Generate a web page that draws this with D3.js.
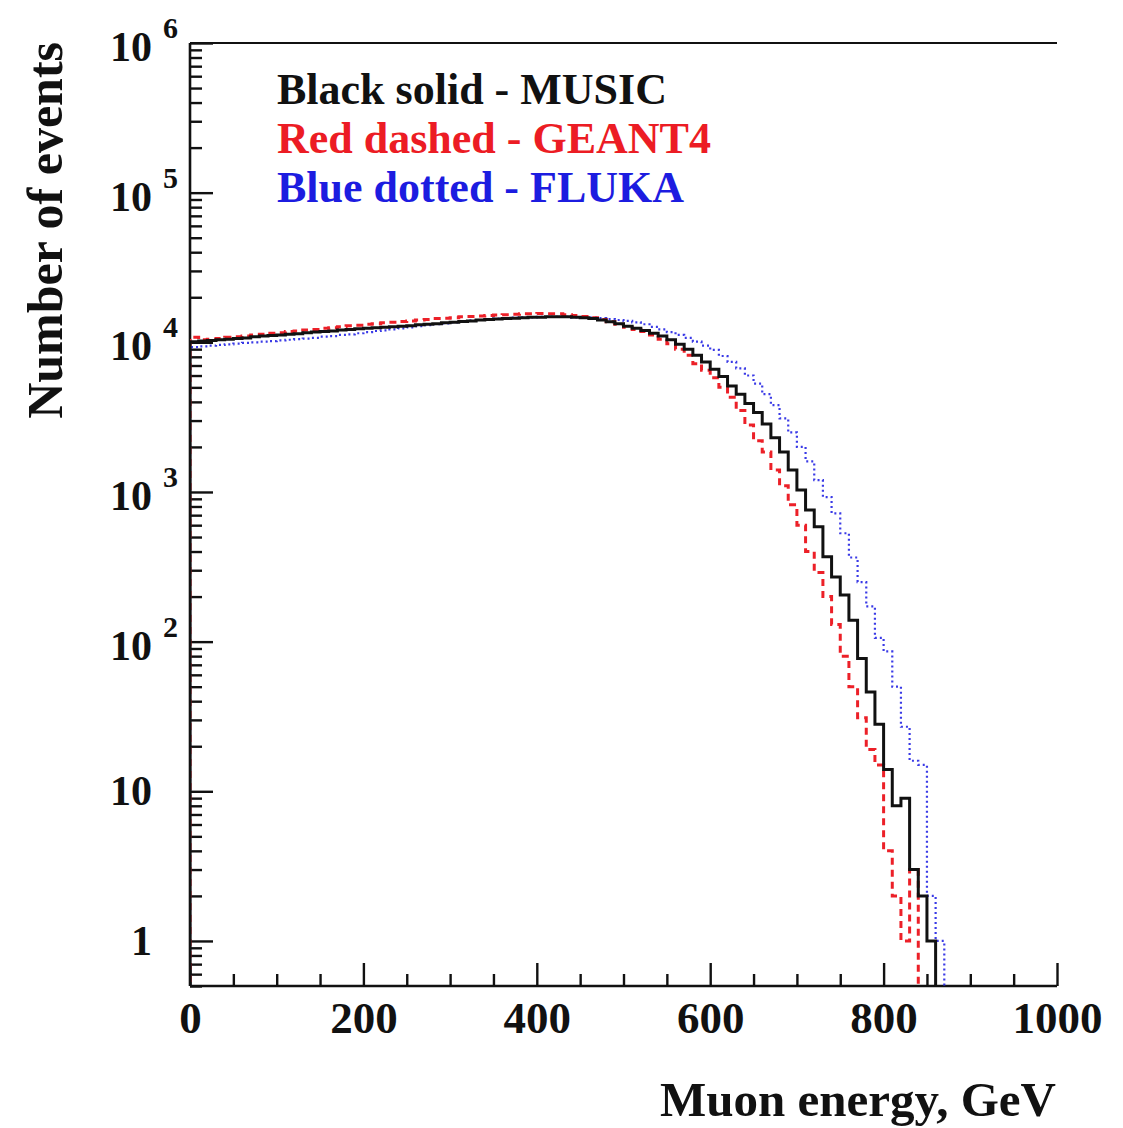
<!DOCTYPE html>
<html lang="en">
<head>
<meta charset="UTF-8">
<title>Muon energy spectrum - MUSIC / GEANT4 / FLUKA</title>
<script src="https://d3js.org/d3.v7.min.js"></script>
<style>
  body { margin: 0; background: #fff; }
  svg text { font-family: "Liberation Serif", "Times New Roman", serif; font-weight: bold; fill: #111; }
  .tick-line { stroke: #111; stroke-width: 2.4; }
</style>
</head>
<body>
<script>
// 10 GeV bins, lower edges 0 ... 990 GeV
const binEdges = d3.range(0, 1000, 10);

// Number of events per bin
const music = [
  10100, 10200, 10300, 10400, 10500, 10600, 10700, 10900, 11000, 11100,
  11200, 11300, 11400, 11600, 11700, 11800, 11900, 12100, 12200, 12300,
  12400, 12500, 12600, 12700, 12800, 12900, 13100, 13200, 13300, 13500,
  13600, 13800, 13900, 14100, 14200, 14300, 14400, 14500, 14600, 14700,
  14700, 14800, 14800, 14800, 14700, 14600, 14400, 14100, 13700, 13300,
  12800, 12400, 12000, 11500, 11000, 10400, 9700, 9000, 8200, 7400,
  6600, 5900, 5100, 4500, 3900, 3400, 2850, 2300, 1850, 1400,
  1030, 757, 585, 369, 270, 205, 139, 77, 46, 28,
  14, 8, 9, 3, 2, 1, 0, 0, 0, 0,
  0, 0, 0, 0, 0, 0, 0, 0, 0, 0
];
const geant4 = [
  10800, 10400, 10500, 10600, 10800, 10900, 11000, 11200, 11300, 11500,
  11600, 11800, 11900, 12100, 12200, 12400, 12500, 12700, 12900, 13000,
  13200, 13300, 13500, 13600, 13800, 13900, 14100, 14200, 14400, 14500,
  14600, 14800, 14900, 15000, 15100, 15200, 15300, 15400, 15500, 15500,
  15600, 15500, 15500, 15300, 15100, 14900, 14600, 14200, 13700, 13200,
  12600, 12200, 11800, 11200, 10500, 9800, 9000, 8200, 7200, 6500,
  5800, 5000, 4300, 3500, 2800, 2200, 1850, 1400, 1100, 820,
  600, 400, 290, 200, 130, 80, 50, 31, 19, 15,
  4, 2, 1, 3, 0, 0, 0, 0, 0, 0,
  0, 0, 0, 0, 0, 0, 0, 0, 0, 0
];
const fluka = [
  9300, 9400, 9500, 9600, 9700, 9800, 9900, 10000, 10100, 10200,
  10300, 10400, 10500, 10600, 10700, 10900, 11000, 11200, 11300, 11500,
  11700, 11900, 12000, 12200, 12400, 12600, 12800, 13000, 13200, 13400,
  13600, 13800, 14000, 14100, 14300, 14400, 14500, 14600, 14700, 14700,
  14800, 14800, 14800, 14800, 14700, 14700, 14600, 14500, 14300, 14100,
  13900, 13600, 13200, 12700, 12200, 11700, 11200, 10700, 10100, 9500,
  8900, 8100, 7400, 6700, 6000, 5300, 4500, 3800, 3100, 2500,
  2000, 1600, 1200, 925, 720, 530, 365, 250, 172, 106,
  86, 50, 27, 16, 15, 2, 1, 0, 0, 0,
  0, 0, 0, 0, 0, 0, 0, 0, 0, 0
];

const xTicks = [0, 200, 400, 600, 800, 1000];
const yDecades = [1, 10, 100, 1e3, 1e4, 1e5, 1e6];
const yExponents = ["", "", "2", "3", "4", "5", "6"];
const legendLabels = ["Black solid - MUSIC", "Red dashed - GEANT4", "Blue dotted - FLUKA"];

// Set dimensions and margins
const margin = {top: 43, right: 66, bottom: 142, left: 190};
const W = 1123, H = 1128;
const width = W - margin.left - margin.right;
const height = H - margin.top - margin.bottom;

const svg = d3.select("body")
    .append("svg")
    .attr("width", W)
    .attr("height", H);

const g = svg.append("g")
    .attr("transform", `translate(${margin.left},${margin.top})`);

const x = d3.scaleLinear().domain([0, 1000]).range([0, width]);
const y = d3.scaleLog().domain([0.5, 1e6]).range([height, 0]);

g.append("clipPath").attr("id", "plot-clip")
    .append("rect")
    .attr("x", 0).attr("y", 0)
    .attr("width", width).attr("height", height);

// frame top line
g.append("line").attr("x1", 0).attr("x2", width).attr("y1", 0).attr("y2", 0)
    .attr("stroke", "#111").attr("stroke-width", 2.2);

// X axis: major and minor ticks pointing inward
const xMinor = d3.range(0, 1001, 50).filter(v => v % 200 !== 0);
g.append("g").attr("transform", `translate(0,${height})`)
    .call(d3.axisBottom(x).tickValues(xMinor).tickSize(-12).tickFormat(""))
    .call(a => a.select(".domain").remove())
    .call(a => a.selectAll("line").attr("class", "tick-line"));

g.append("g").attr("transform", `translate(0,${height})`)
    .call(d3.axisBottom(x).tickValues(xTicks).tickSize(-23).tickPadding(16).tickFormat(d3.format("d")))
    .call(a => a.select(".domain").remove())
    .call(a => a.selectAll("line").attr("class", "tick-line"))
    .call(a => a.selectAll("text")
        .attr("font-size", 45)
        .attr("dy", 0)
        .attr("y", 47));

// Y axis: log ticks 1..9 in each decade
const yMinor = y.ticks().filter(v => !yDecades.includes(v) && v >= 0.5);
g.append("g")
    .call(d3.axisRight(y).tickValues(yMinor).tickSize(12).tickFormat(""))
    .call(a => a.select(".domain").remove())
    .call(a => a.selectAll("line").attr("class", "tick-line"));

g.append("g")
    .call(d3.axisRight(y).tickValues(yDecades).tickSize(23).tickFormat(""))
    .call(a => a.select(".domain").remove())
    .call(a => a.selectAll("line").attr("class", "tick-line"));

// axis lines
g.append("line").attr("x1", 0).attr("x2", width).attr("y1", height).attr("y2", height)
    .attr("stroke", "#111").attr("stroke-width", 2.6);
g.append("line").attr("x1", 0).attr("x2", 0).attr("y1", 0).attr("y2", height)
    .attr("stroke", "#111").attr("stroke-width", 2.6);

// Y tick labels (10 with superscript exponent)
const yLab = g.append("g");
yDecades.forEach((v, i) => {
    const exp = yExponents[i];
    const base = v === 1 ? "1" : "10";
    yLab.append("text")
        .attr("x", -38)
        .attr("y", y(v) + (exp ? 18 : 14))
        .attr("text-anchor", "end")
        .attr("font-size", 42)
        .text(base);
    if (exp) {
        yLab.append("text")
            .attr("x", -27)
            .attr("y", y(v) - 5)
            .attr("text-anchor", "start")
            .attr("font-size", 30)
            .text(exp);
    }
});

// Histograms drawn as step outlines
const series = [
    {values: fluka,  color: "#3a3ae6", width: 2.2, dash: "2,3"},
    {values: geant4, color: "#ec2028", width: 3,   dash: "7,5"},
    {values: music,  color: "#111111", width: 3,   dash: null}
];

const step = d3.line()
    .x(d => x(d[0]))
    .y(d => d[1] > 0 ? y(d[1]) : height + 20)
    .curve(d3.curveStepAfter);

const plot = g.append("g").attr("clip-path", "url(#plot-clip)");
series.forEach(s => {
    const pts = [[0, 0]].concat(binEdges.map((e, i) => [e, s.values[i]]));
    pts.push([1000, s.values[s.values.length - 1]]);
    plot.append("path")
        .datum(pts)
        .attr("fill", "none")
        .attr("stroke", s.color)
        .attr("stroke-width", s.width)
        .attr("stroke-dasharray", s.dash)
        .attr("d", step);
});

// Legend text
const legendColors = ["#111111", "#ec1c24", "#1c1ce0"];
legendLabels.forEach((t, i) => {
    g.append("text")
        .attr("x", 277 - margin.left)
        .attr("y", 104 - margin.top + i * 49)
        .attr("font-size", 44)
        .style("fill", legendColors[i])
        .text(t);
});

// Axis titles
svg.append("text")
    .attr("transform", "translate(62,42) rotate(-90)")
    .attr("text-anchor", "end")
    .attr("font-size", 50)
    .text("Number of events");

svg.append("text")
    .attr("x", 1056)
    .attr("y", 1116)
    .attr("text-anchor", "end")
    .attr("font-size", 49)
    .text("Muon energy, GeV");
</script>
</body>
</html>
